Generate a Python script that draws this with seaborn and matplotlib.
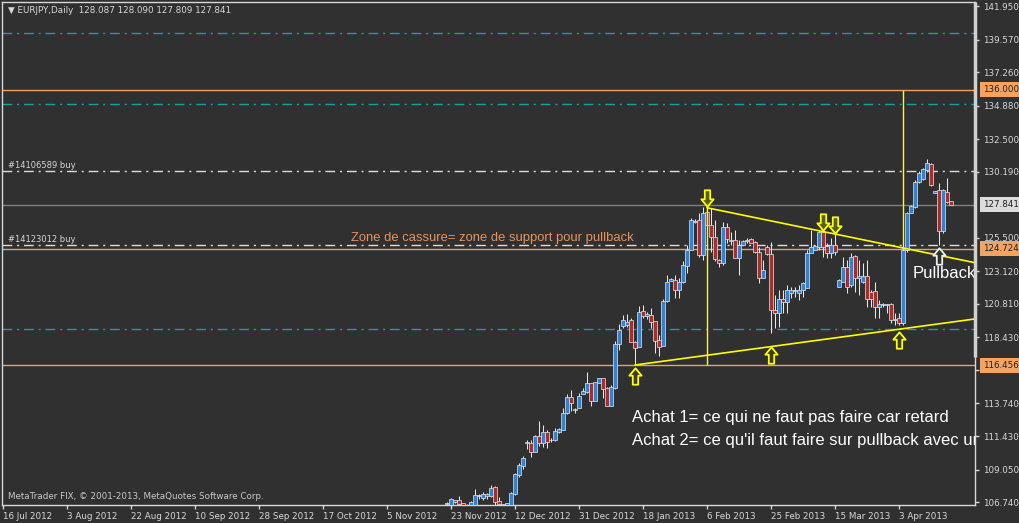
import matplotlib
matplotlib.use("Agg")
import matplotlib.pyplot as plt
import numpy as np
import pandas as pd
import seaborn as sns
from matplotlib.path import Path
from matplotlib.transforms import blended_transform_factory

# ---------------------------------------------------------------- données
# barre 0 = 16 Jul 2012, une barre par jour (dimanche compris)
first_bar = 111

opens = [106.62, 106.55, 106.72, 106.87, 106.65, 106.50, 106.55, 106.54, 107.20, 107.05,
         107.20, 107.17, 107.81, 106.80, 106.60, 106.55, 106.54, 107.32, 108.66, 109.30,
         110.95, 110.96, 110.32, 111.43, 110.96, 111.72, 111.18, 111.15, 111.70, 111.86,
         113.04, 114.22, 113.38, 113.40, 114.39, 114.58, 115.19, 113.94, 115.17, 115.53,
         114.82, 113.58, 114.85, 117.96, 119.24, 119.30, 119.66, 118.13, 117.77, 120.30,
         119.95, 120.02, 119.59, 118.25, 117.84, 121.01, 122.45, 122.50, 121.79, 122.34,
         123.52, 124.63, 126.60, 126.76, 124.28, 127.35, 126.41, 125.53, 123.92, 123.69,
         126.29, 125.28, 125.34, 124.04, 124.99, 125.28, 125.39, 125.22, 124.46, 122.67,
         124.87, 124.33, 120.37, 120.14, 121.13, 120.97, 121.60, 121.72, 121.60, 121.79,
         121.91, 124.40, 124.63, 124.87, 125.93, 124.92, 124.40, 124.99, 122.03, 122.38,
         123.45, 122.15, 124.21, 122.62, 122.38, 122.79, 121.67, 121.72, 120.56, 120.70,
         120.70, 120.80, 119.66, 119.78, 119.43, 124.63, 127.28, 127.71, 129.44, 129.65,
         130.31, 130.74, 128.65, 128.89, 126.00, 128.77, 128.087]
highs = [106.78, 107.06, 106.90, 107.18, 106.68, 106.62, 106.82, 107.67, 107.30, 107.43,
         107.41, 107.95, 107.88, 107.10, 106.64, 106.70, 107.48, 108.78, 109.49, 110.04,
         111.15, 111.15, 111.53, 112.50, 112.19, 111.86, 111.27, 112.03, 112.00, 113.40,
         114.39, 114.70, 113.42, 114.46, 114.82, 115.95, 115.19, 115.30, 115.53, 115.53,
         114.93, 115.05, 118.20, 119.36, 120.02, 120.09, 119.78, 118.20, 120.68, 120.73,
         120.26, 120.49, 119.59, 118.60, 121.15, 122.86, 122.67, 122.86, 122.62, 123.85,
         124.99, 126.93, 126.83, 127.23, 127.71, 127.83, 127.59, 126.76, 124.00, 126.64,
         126.53, 125.93, 126.05, 125.34, 125.34, 125.51, 125.51, 125.30, 124.87, 123.92,
         124.99, 125.22, 121.44, 121.79, 121.79, 122.15, 122.03, 122.03, 122.15, 122.39,
         124.63, 126.05, 124.92, 126.05, 126.10, 125.10, 125.50, 125.82, 122.55, 124.16,
         123.92, 124.40, 124.28, 123.92, 123.69, 123.92, 121.79, 122.38, 121.09, 120.85,
         120.82, 120.85, 120.14, 120.14, 124.75, 127.35, 127.83, 129.60, 130.26, 130.43,
         131.07, 130.78, 128.84, 129.36, 128.94, 129.72, 128.090]
lows = [106.50, 106.40, 106.65, 106.54, 106.40, 106.30, 106.48, 106.50, 106.93, 106.89,
        106.94, 107.13, 106.54, 106.50, 106.40, 106.40, 106.45, 107.25, 108.55, 109.07,
        110.49, 109.92, 110.30, 110.72, 110.68, 110.60, 111.03, 111.08, 111.65, 111.86,
        112.99, 113.21, 113.09, 113.40, 114.39, 114.46, 113.56, 113.90, 115.17, 114.11,
        113.56, 113.58, 114.80, 117.54, 119.12, 119.19, 118.08, 116.47, 117.77, 119.83,
        119.74, 119.12, 117.30, 117.13, 117.84, 120.97, 122.40, 121.20, 121.25, 122.27,
        122.98, 124.63, 126.52, 124.16, 123.92, 124.75, 124.51, 123.85, 123.45, 123.57,
        125.10, 124.99, 124.04, 122.86, 124.99, 125.10, 125.10, 124.40, 122.27, 122.62,
        124.28, 118.72, 119.07, 119.19, 120.14, 120.14, 121.20, 121.32, 121.09, 121.32,
        121.91, 124.40, 124.63, 124.63, 124.16, 124.04, 124.04, 124.28, 122.00, 122.38,
        121.56, 122.03, 121.67, 121.44, 122.27, 120.61, 120.61, 119.78, 119.78, 120.61,
        120.14, 119.43, 119.31, 119.31, 119.31, 124.51, 127.23, 127.59, 129.36, 129.60,
        130.19, 129.18, 128.65, 124.99, 125.82, 127.95, 127.809]
closes = [106.70, 106.94, 106.86, 106.63, 106.54, 106.45, 106.78, 107.24, 107.22, 107.29,
          107.33, 107.74, 106.77, 106.58, 106.56, 106.65, 107.41, 108.71, 109.35, 109.89,
          110.99, 110.32, 111.43, 110.96, 111.72, 111.03, 111.12, 111.79, 111.93, 113.07,
          114.22, 113.75, 113.30, 114.27, 114.65, 115.19, 113.94, 115.26, 115.53, 114.79,
          113.56, 114.89, 117.94, 118.96, 119.66, 119.55, 118.13, 117.70, 120.26, 119.95,
          120.12, 119.55, 118.17, 117.77, 121.01, 122.39, 122.55, 121.79, 122.34, 123.57,
          124.63, 126.76, 126.69, 124.28, 127.23, 126.41, 125.53, 123.97, 123.69, 126.29,
          125.41, 125.34, 124.04, 124.99, 125.30, 125.34, 125.15, 124.51, 122.62, 123.21,
          124.33, 120.37, 120.14, 121.13, 120.97, 121.79, 121.79, 121.78, 121.79, 122.27,
          124.44, 124.87, 124.92, 125.93, 124.87, 124.40, 124.99, 124.50, 122.50, 123.45,
          122.03, 124.16, 122.62, 122.79, 122.79, 121.13, 121.13, 120.56, 120.80, 120.80,
          120.80, 119.66, 119.75, 119.43, 124.63, 127.23, 127.76, 129.44, 130.12, 130.36,
          130.78, 129.25, 128.84, 126.00, 128.89, 128.06, 127.841]

date_labels = ["16 Jul 2012", "3 Aug 2012", "22 Aug 2012", "10 Sep 2012", "28 Sep 2012",
               "17 Oct 2012", "5 Nov 2012", "23 Nov 2012", "12 Dec 2012", "31 Dec 2012",
               "18 Jan 2013", "6 Feb 2013", "25 Feb 2013", "15 Mar 2013", "3 Apr 2013"]
bars_per_label = 16

price_ticks = [141.950, 139.570, 137.260, 134.880, 132.500, 130.190, 125.500, 123.120,
               120.810, 118.430, 116.120, 113.740, 111.430, 109.050, 106.740]

# niveaux horizontaux
orange_levels = [136.000, 124.724, 116.456]
bid_level = 127.841
teal_levels = [140.00, 135.00, 119.03]
buy_levels = [130.22, 124.98]
buy_names = ["#14106589 buy", "#14123012 buy"]

# lignes de tendance (barre, prix)
upper_trend_bars = [176, 243]
upper_trend_prices = [127.63, 123.73]
lower_trend_bars = [158, 243]
lower_trend_prices = [116.47, 119.74]

# verticales (barre, prix bas, prix haut)
vlines_bar = [176, 225]
vlines_low = [116.456, 124.724]
vlines_high = [127.83, 136.000]

# flèches
down_arrow_bars = [176, 205, 208]
down_arrow_prices = [128.32, 126.62, 126.41]
up_arrow_bars = [158, 192, 224]
up_arrow_prices = [115.69, 117.18, 118.25]
pullback_arrow_bar = 234
pullback_arrow_price = 124.21

# ---------------------------------------------------------------- style
BG = "#303030"
FG = "#d8d8d8"
sns.set_style("dark", {
    "axes.facecolor": BG, "figure.facecolor": BG, "axes.edgecolor": FG,
    "xtick.color": FG, "ytick.color": FG, "text.color": FG,
    "axes.labelcolor": FG, "axes.grid": False,
    "xtick.bottom": True, "ytick.right": True,
})
plt.rcParams["font.family"] = ["DejaVu Sans"]

fig = plt.figure(figsize=(10.2, 5.23), dpi=100)
ax = fig.add_axes([2 / 1020, 18 / 523, 973 / 1020, 503 / 523])

df = pd.DataFrame({"open": opens, "high": highs, "low": lows, "close": closes})
df["bar"] = first_bar + np.arange(len(df))
df["up"] = df["close"] >= df["open"]

# lignes horizontales
dashdot = (0, (7, 3.5, 1.5, 3.5))
for lv in teal_levels:
    ax.axhline(lv, color="#13a0a0", lw=1, ls=dashdot, zorder=1)
for lv in buy_levels:
    ax.axhline(lv, color="#dcdcdc", lw=1, ls=dashdot, zorder=1)
for lv in orange_levels:
    ax.axhline(lv, color="#f0a060", lw=1, zorder=1)
ax.axhline(bid_level, color="#808080", lw=1, zorder=1)

# bougies
ax.vlines(df["bar"], df["low"], df["high"], color="#e6e6e6", lw=0.75, zorder=2)
body_lo = df[["open", "close"]].min(axis=1)
body_h = (df["close"] - df["open"]).abs().clip(lower=0.03)
ax.bar(df["bar"], body_h, bottom=body_lo, width=0.78,
       color=np.where(df["up"], "#2a84dc", "#b02a2a"),
       edgecolor="#e6e6e6", linewidth=0.5, zorder=3)

# tendances
sns.lineplot(x=upper_trend_bars, y=upper_trend_prices, ax=ax, color="#ffff00", lw=1.2, zorder=4)
sns.lineplot(x=lower_trend_bars, y=lower_trend_prices, ax=ax, color="#ffff00", lw=1.2, zorder=4)
ax.vlines(vlines_bar, vlines_low, vlines_high, color="#f4f45a", lw=1, zorder=4)

# flèches
up_path = Path([(0, 1), (0.75, 0.1), (0.33, 0.1), (0.33, -1), (-0.33, -1),
                (-0.33, 0.1), (-0.75, 0.1), (0, 1)], closed=True)
down_path = Path([(x, -y) for x, y in up_path.vertices], closed=True)
ax.scatter(down_arrow_bars, down_arrow_prices, marker=down_path, s=140,
           facecolor="#56601c", edgecolor="#ffff00", linewidth=1.3, zorder=5)
ax.scatter(up_arrow_bars, up_arrow_prices, marker=up_path, s=140,
           facecolor="#3a3a20", edgecolor="#ffff00", linewidth=1.3, zorder=5)
ax.scatter([pullback_arrow_bar], [pullback_arrow_price], marker=up_path, s=140,
           facecolor=BG, edgecolor="#f0f0f0", linewidth=1.3, zorder=5)

# textes
ax.text(87, 125.48, "Zone de cassure= zone de support pour pullback", color="#e8935a",
        fontsize=9.4, family="Liberation Sans", va="center", zorder=6)
for lv, name in zip(buy_levels, buy_names):
    ax.text(1.3, lv + 0.38, name, fontsize=6, color=FG, va="center")
ax.text(157.3, 112.71, "Achat 1= ce qui ne faut pas faire car retard", color="white",
        fontsize=12, family="Liberation Sans", va="center", clip_on=True, zorder=6)
ax.text(157.3, 111.08, "Achat 2= ce qu'il faut faire sur pullback avec un", color="white",
        fontsize=12, family="Liberation Sans", va="center", clip_on=True, zorder=6)
ax.text(227.3, 122.93, "Pullback?", color="white", fontsize=12, family="Liberation Sans",
        va="center", clip_on=True, zorder=6)

ax.text(0.006, 0.984, "\u25bc EURJPY,Daily  128.087 128.090 127.809 127.841",
        transform=ax.transAxes, fontsize=6.3, color=FG, va="center")
ax.text(0.006, 0.016, "MetaTrader FIX, \u00a9 2001-2013, MetaQuotes Software Corp.",
        transform=ax.transAxes, fontsize=6.3, color="#c8c8c8", va="center")

# axes
ax.set_xlim(-0.25, 243)
ax.set_ylim(106.535, 142.234)
ax.set_xticks(np.arange(len(date_labels)) * bars_per_label)
ax.set_xticklabels(date_labels)
plt.setp(ax.get_xticklabels(), ha="left")
ax.set_yticks(price_ticks)
ax.set_yticklabels([f"{v:.3f}" for v in price_ticks])
ax.yaxis.tick_right()
ax.tick_params(axis="both", direction="out", length=3, width=1, labelsize=6.3,
               colors=FG, pad=2)
ax.tick_params(axis="y", pad=3)
for sp in ax.spines.values():
    sp.set_color(FG)
    sp.set_linewidth(1)
ax.set_xlabel("")
ax.set_ylabel("")

# étiquettes de prix sur l'axe
tr = blended_transform_factory(ax.transAxes, ax.transData)
box_kw = dict(transform=tr, fontsize=6.3, color="#202020", va="center", ha="left",
              clip_on=False)
for lv in orange_levels:
    ax.text(1.008, lv, f"{lv:.3f}", **box_kw,
            bbox=dict(boxstyle="square,pad=0.35", fc="#f4a460", ec="none"))
ax.text(1.008, bid_level, f"{bid_level:.3f}", **box_kw,
        bbox=dict(boxstyle="square,pad=0.35", fc="#dcdcdc", ec="none"))

# barre épaisse à droite
ax.plot([1, 1], [0.294, 1], transform=ax.transAxes, color="#d0d0d0", lw=2.5,
        clip_on=False, solid_capstyle="butt", zorder=7)

fig.savefig("out.png", dpi=100, facecolor=BG)
